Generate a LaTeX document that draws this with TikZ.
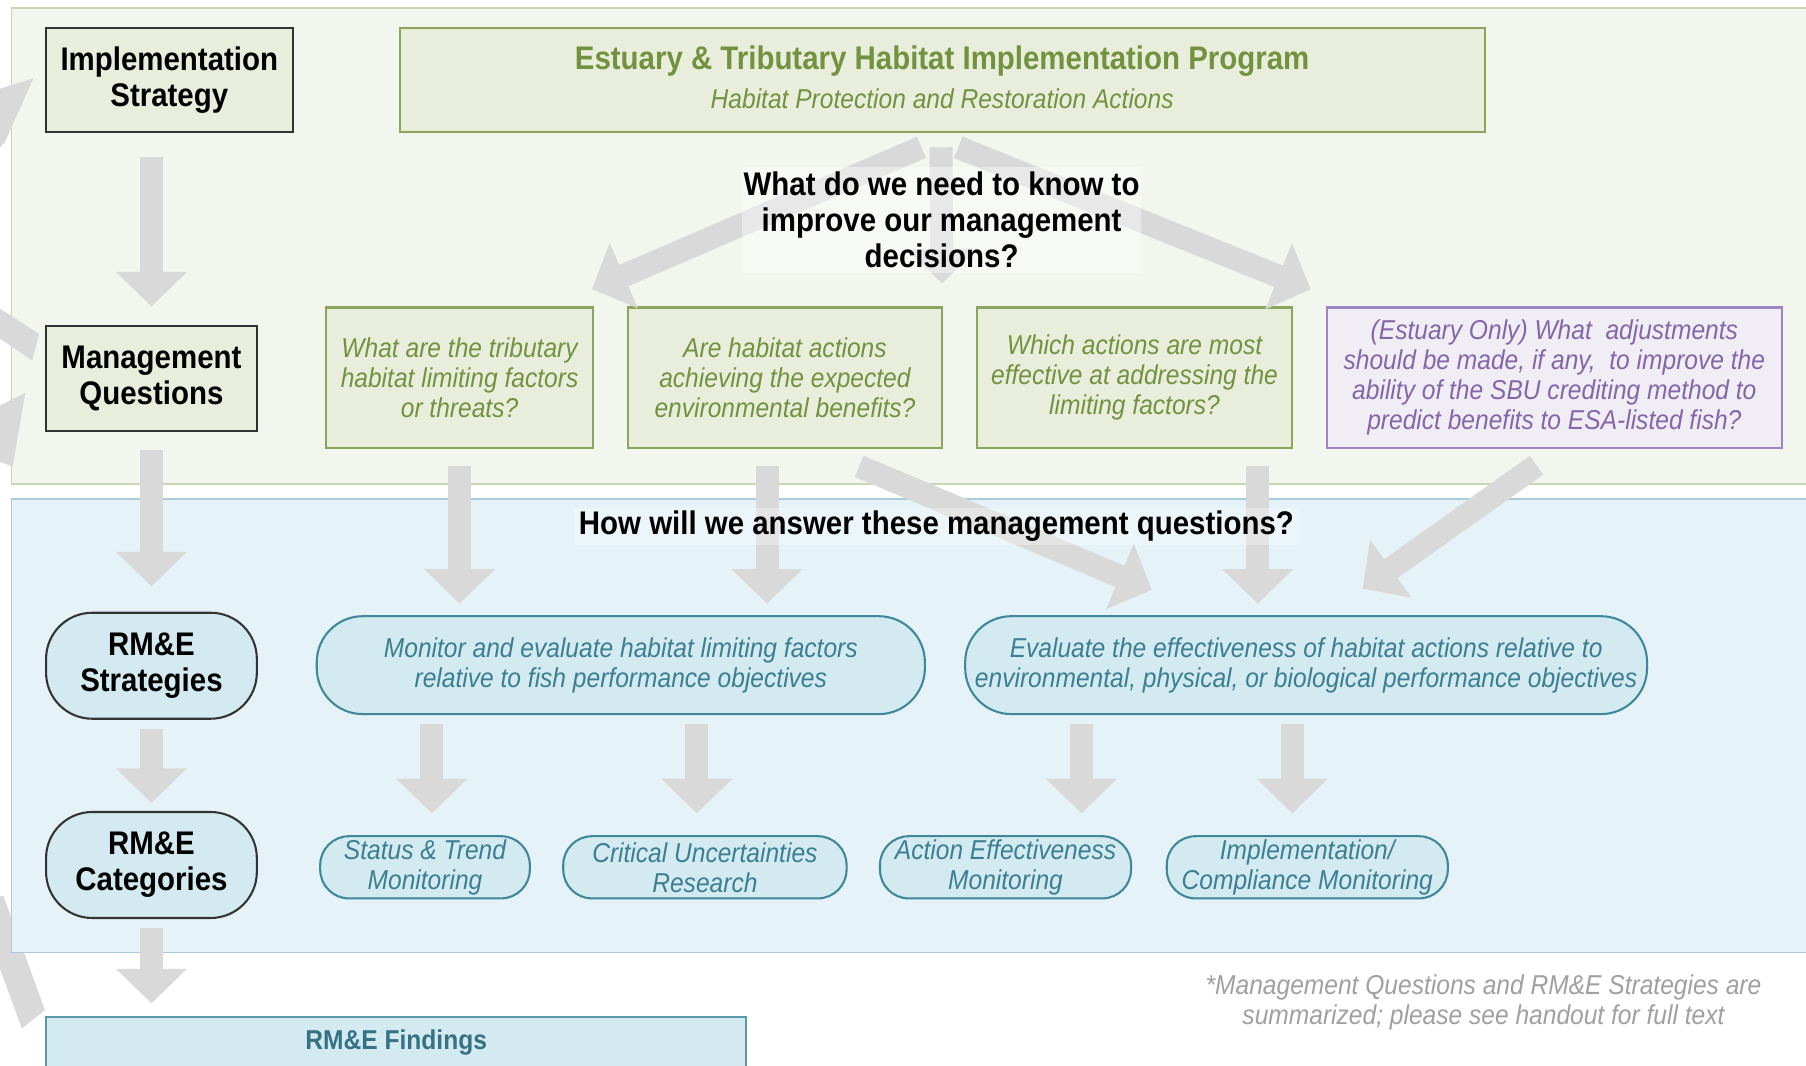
\documentclass[tikz,border=0pt]{standalone}
\usepackage{fontspec}
\setmainfont{Liberation Sans}[FakeStretch=0.9]
\usetikzlibrary{arrows.meta,calc}
\definecolor{agray}{HTML}{D9D9D9}
\definecolor{gpanel}{HTML}{F3F6EE}
\definecolor{gpanelb}{HTML}{C9D6B1}
\definecolor{gbox}{HTML}{E9EEDC}
\definecolor{gboxb}{HTML}{8BA55C}
\definecolor{gtext}{HTML}{73923F}
\definecolor{bpanel}{HTML}{E5F2F7}
\definecolor{bpanelb}{HTML}{A9CDD8}
\definecolor{tbox}{HTML}{D2EAF0}
\definecolor{tboxb}{HTML}{3F8799}
\definecolor{ttext}{HTML}{3C7F92}
\definecolor{pbox}{HTML}{F0EEF4}
\definecolor{pboxb}{HTML}{9D85C2}
\definecolor{ptext}{HTML}{8466AA}
\definecolor{ftext}{HTML}{A0A0A0}
\begin{document}
\begin{tikzpicture}[x=0.5pt,y=-0.5pt,
  bigf/.style={font=\fontsize{14.2pt}{15.5pt}\selectfont\bfseries},
  smallf/.style={font=\fontsize{11.85pt}{13pt}\selectfont\itshape},
  darkbox/.style={draw=black!80,line width=0.9pt,fill=gbox,align=center,inner sep=0pt,bigf},
  darkround/.style={darkbox,fill=tbox,rounded corners=20pt},
  qbox/.style={draw=gboxb,line width=0.9pt,fill=gbox,text=gtext,align=center,inner sep=0pt,smallf,minimum height=61pt},
  pqbox/.style={qbox,draw=pboxb,fill=pbox,text=ptext},
  stratbox/.style={draw=tboxb,line width=0.9pt,fill=tbox,text=ttext,align=center,inner sep=0pt,smallf,rounded corners=20pt,minimum height=42.5pt},
  catbox/.style={stratbox,rounded corners=12.5pt,minimum height=27pt},
  garrow/.style={draw=agray,line width=10pt,-{Triangle[width=30pt,length=15pt]}},
  veil/.style={fill=white,fill opacity=0.4,text opacity=1,inner sep=0pt,align=center,bigf}
]
\path[use as bounding box] (0,0) rectangle (1568,925);
\clip (0,0) rectangle (1568,925);
\fill[white] (0,0) rectangle (1568,925);

% lower part of the feedback loop (passes behind the blue panel)
\fill[agray] (0,778) -- (3,778) -- (39,877) -- (19,893) -- (0,841) -- cycle;

% panels
\draw[fill=gpanel,draw=gpanelb,line width=0.7pt] (10,7) rectangle (1600,420);
\draw[fill=bpanel,draw=bpanelb,line width=0.7pt] (10,433) rectangle (1600,827);

% partial feedback loop on the left edge
\fill[agray] (0,77) -- (29,68) -- (4,124) -- (0,128) -- cycle;
\fill[agray] (0,268) -- (34,290) -- (28,313) -- (0,294) -- cycle;
\fill[agray] (0,352) -- (22,341) -- (11,405) -- (0,401) -- cycle;

% left column
\node[darkbox,minimum width=107pt,minimum height=45.5pt] (is) at (147,69.5) {Implementation\\Strategy};
\node[darkbox,minimum width=91.5pt,minimum height=45.5pt] (mq) at (131.5,328.5) {Management\\Questions};
\node[darkround,minimum width=91.5pt,minimum height=46pt] (rs) at (131.5,578) {RM\&E\\Strategies};
\node[darkround,minimum width=91.5pt,minimum height=46pt] (rc) at (131.5,751) {RM\&E\\Categories};

% program box
\node[draw=gboxb,line width=0.9pt,fill=gbox,minimum width=471pt,minimum height=45.5pt] (est) at (818,69.5) {};
\node[bigf,text=gtext] (esttitle) at (818,53) {Estuary \& Tributary Habitat Implementation Program};
\node[smallf,text=gtext] (estsub) at (818,86) {Habitat Protection and Restoration Actions};

% questions
\node[qbox,minimum width=116pt] (q1) at (399,328) {What are the tributary\\habitat limiting factors\\or threats?};
\node[qbox,minimum width=136.5pt] (q2) at (681.5,328) {Are habitat actions\\achieving the expected\\environmental benefits?};
\node[qbox,minimum width=137pt] (q3) at (985,328) {Which actions are most\\effective at addressing the\\limiting factors?};
\node[pqbox,minimum width=197.5pt] (q4) at (1349.5,328) {(Estuary Only) What\ \ adjustments\\should be made, if any,\ \ to improve the\\ability of the SBU crediting method to\\predict benefits to ESA-listed fish?};

% strategies
\node[stratbox,minimum width=264pt] (s1) at (539,577.5) {Monitor and evaluate habitat limiting factors\\relative to fish performance objectives};
\node[stratbox,minimum width=296pt] (s2) at (1134,577.5) {Evaluate the effectiveness of habitat actions relative to\\environmental, physical, or biological performance objectives};

% categories
\node[catbox,minimum width=91pt] (c1) at (369,753) {Status \& Trend\\Monitoring};
\node[catbox,minimum width=123pt] (c2) at (612,753) {Critical Uncertainties\\Research};
\node[catbox,minimum width=109pt] (c3) at (873,753) {Action Effectiveness\\Monitoring};
\node[catbox,minimum width=122pt] (c4) at (1135,753) {Implementation/\\Compliance Monitoring};

% findings
\node[draw=tboxb!85,line width=0.9pt,fill=tbox,minimum width=304pt,minimum height=28.5pt] (find) at (344,911.5) {};
\node[font=\fontsize{11.85pt}{13pt}\selectfont\bfseries,text=ttext!90!black] (findtxt) at (344,905) {RM\&E Findings};

% footnote
\node[smallf,text=ftext,align=center] (note) at (1288,870.5) {*Management Questions and RM\&E Strategies are\\summarized; please see handout for full text};

% arrows
\draw[garrow] ($(is.south)+(-15.5,20)$) -- ($(mq.north)+(0,-16)$);
\draw[garrow] ($(mq.south)+(0,16)$) -- ($(rs.north)+(0,-22)$);
\draw[garrow] ($(rs.south)+(0,8)$) -- ($(rc.north)+(0,-7)$);
\draw[garrow] ($(rc.south)+(0,8)$) -- ($(rc.south |- find.north)+(0,-11)$);

\draw[garrow] ($(est.south)+(-18,12)$) -- ($(q2.north)+(-167.5,-15)$);
\draw[garrow] ($(est.south)+(14,12)$) -- ($(q3.north)+(153,-15)$);
\draw[garrow] ($(est.south)+(-1,12)$) -- ($(q2.north east)+(-1,-20)$);

\draw[garrow] ($(q1.south)+(0,15)$) -- ($(q1.south |- s1.north)+(0,-10)$);
\draw[garrow] ($(q2.south)+(-15.5,15)$) -- ($(q2.south |- s1.north)+(-15.5,-10)$);
\draw[garrow] ($(q3.south)+(107,15)$) -- ($(q3.south |- s2.north)+(107,-10)$);
\draw[garrow] ($(q2.south)+(64.5,15)$) -- ($(s2.north)+(-134,-22)$);
\draw[garrow] ($(q4.south)+(-15.5,14)$) -- ($(s2.north)+(49,-23)$);

\draw[garrow] ($(s1.south)+(-164,8)$) -- ($(c1.north)+(6,-19)$);
\draw[garrow] ($(s1.south)+(66,8)$) -- ($(c2.north)+(-7,-19)$);
\draw[garrow] ($(s2.south)+(-195,8)$) -- ($(c3.north)+(66,-19)$);
\draw[garrow] ($(s2.south)+(-12,8)$) -- ($(c4.north)+(-13,-19)$);

% veiled headings
\node[veil,minimum width=173.5pt,minimum height=46pt] (need) at (817.5,191) {What do we need to know to\\improve our management\\decisions?};
\node[veil,fill opacity=0.3,minimum width=315pt,minimum height=16pt] (how) at (813,457) {How will we answer these management questions?};
\end{tikzpicture}
\end{document}
